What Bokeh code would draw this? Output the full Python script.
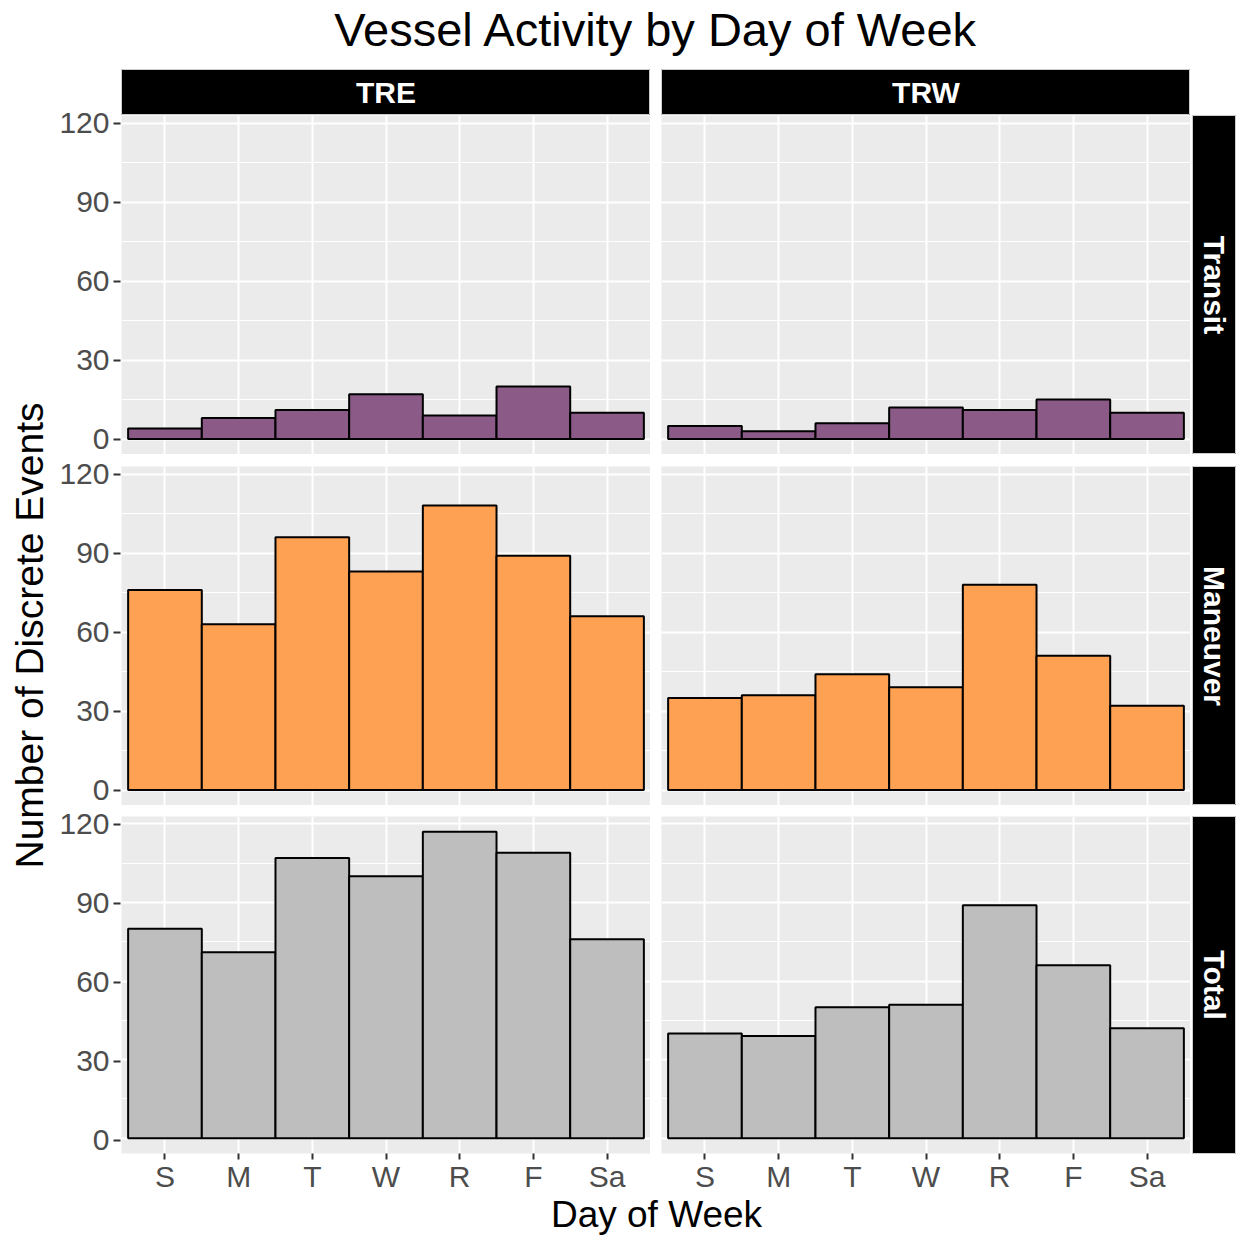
from math import pi

from bokeh.plotting import figure
from bokeh.layouts import row, column, Spacer
from bokeh.models import ColumnDataSource, FactorRange, Range1d, FixedTicker
from bokeh.core.properties import value
from bokeh.embed import file_html
from bokeh.resources import INLINE

# data
days = ["S", "M", "T", "W", "R", "F", "Sa"]
sites = ["TRE", "TRW"]
activities = ["Transit", "Maneuver", "Total"]

transit_tre = [4, 8, 11, 17, 9, 20, 10]
transit_trw = [5, 3, 6, 12, 11, 15, 10]
maneuver_tre = [76, 63, 96, 83, 108, 89, 66]
maneuver_trw = [35, 36, 44, 39, 78, 51, 32]
total_tre = [80, 71, 107, 100, 117, 109, 76]
total_trw = [40, 39, 50, 51, 89, 66, 42]

y_ticks = [0, 30, 60, 90, 120]
y_minor = [15, 45, 75, 105]

counts = {
    ("Transit", "TRE"): transit_tre, ("Transit", "TRW"): transit_trw,
    ("Maneuver", "TRE"): maneuver_tre, ("Maneuver", "TRW"): maneuver_trw,
    ("Total", "TRE"): total_tre, ("Total", "TRW"): total_trw,
}
fills = {"Transit": "#8B5A87", "Maneuver": "#FFA152", "Total": "#BEBEBE"}

FONT = "Liberation Sans"
PW, PH = 529, 339           # panel frame size
GAP = 11                    # space between facets
STRIP = 46
TITLE_H = 69
YLAB_W, YAX_W = 53, 68
row_tops = [0, 12, 11]      # space above each facet row
X_AXIS_H = 40               # room for day labels under the last row
MAIN_W = PW + GAP + PW + STRIP
CX = 656 - YLAB_W - YAX_W   # centre of the facet area inside the main column


def y_range():
    return Range1d(-5.85, 122.85)


def style_axis(ax):
    ax.axis_line_color = None
    ax.major_tick_in = 0
    ax.major_tick_out = 7
    ax.major_tick_line_color = "#333333"
    ax.major_tick_line_width = 2
    ax.minor_tick_line_color = None
    ax.major_label_text_font = FONT
    ax.major_label_text_font_size = "30px"
    ax.major_label_text_color = "#4D4D4D"
    ax.major_label_standoff = 4


def text_fig(w, h, label, x, y, size, angle=0):
    f = figure(width=w, height=h, x_range=Range1d(0, w), y_range=Range1d(0, h),
               x_axis_location=None, y_axis_location=None,
               toolbar_location=None, output_backend="svg",
               min_border_left=0, min_border_right=0, min_border_top=0, min_border_bottom=0,
               outline_line_color=None)
    f.grid.visible = False
    f.text(x=[x], y=[y], text=[label], angle=angle, text_align="center",
           text_baseline="middle", text_color="black",
           text_font=value(FONT), text_font_size=size)
    return f


def strip(label, w, h, left=0, top=0, bottom=0, angle=0):
    s = figure(width=w + left, height=h + top + bottom,
               x_range=Range1d(0, 1), y_range=Range1d(0, 1),
               x_axis_location=None, y_axis_location=None,
               toolbar_location=None, output_backend="svg",
               min_border_left=left, min_border_right=0,
               min_border_top=top, min_border_bottom=bottom,
               background_fill_color="black", outline_line_color="#CCCCCC")
    s.grid.visible = False
    s.text(x=[0.5], y=[0.5], text=[label], angle=angle, text_align="center",
           text_baseline="middle", text_color="white", text_font=value(FONT),
           text_font_style="bold", text_font_size="30px")
    return s


def y_axis_fig(top, bottom):
    # thin figure that only carries the shared y axis of one facet row
    a = figure(width=YAX_W, height=PH + top + bottom,
               x_range=Range1d(0, 1), y_range=y_range(),
               x_axis_location=None, y_axis_location="left",
               toolbar_location=None, output_backend="svg",
               min_border_left=YAX_W - 1, min_border_right=0,
               min_border_top=top, min_border_bottom=bottom,
               outline_line_color=None)
    a.grid.visible = False
    style_axis(a.yaxis[0])
    a.yaxis[0].ticker = FixedTicker(ticks=y_ticks)
    return a


def panel(vals, fill, show_x, left, top):
    bottom = X_AXIS_H if show_x else 0
    p = figure(width=PW + left, height=PH + top + bottom,
               x_range=FactorRange(factors=days, range_padding=0.0257),
               y_range=y_range(),
               x_axis_location="below" if show_x else None,
               y_axis_location=None,
               toolbar_location=None, output_backend="svg",
               min_border_left=left, min_border_right=0,
               min_border_top=top, min_border_bottom=bottom,
               background_fill_color="#EBEBEB", outline_line_color=None)
    src = ColumnDataSource(data=dict(day=days, count=vals))
    p.vbar(x="day", top="count", bottom=0, width=1, source=src,
           fill_color=fill, line_color="black", line_width=2)

    p.ygrid.ticker = FixedTicker(ticks=y_ticks, minor_ticks=y_minor)
    p.grid.grid_line_color = "white"
    p.grid.grid_line_width = 2
    p.ygrid.minor_grid_line_color = "white"
    p.ygrid.minor_grid_line_width = 1

    for ax in p.xaxis:
        style_axis(ax)
        ax.major_tick_out = 6
        ax.major_label_standoff = 0
    return p


title = text_fig(MAIN_W, TITLE_H, "Vessel Activity by Day of Week", CX, 40, "47px")
strips = row(strip(sites[0], PW, STRIP),
             strip(sites[1], PW, STRIP, left=GAP),
             Spacer(width=STRIP, height=STRIP))

facet_rows = []
for i, act in enumerate(activities):
    last = i == len(activities) - 1
    top = row_tops[i]
    bottom = X_AXIS_H if last else 0
    facet_rows.append(row(
        panel(counts[(act, sites[0])], fills[act], last, 0, top),
        panel(counts[(act, sites[1])], fills[act], last, GAP, top),
        strip(act, STRIP - 2, PH, left=2, top=top, bottom=bottom, angle=-pi / 2),
    ))

xlab_h = 1236 - TITLE_H - STRIP - sum(row_tops) - 3 * PH - X_AXIS_H
xlab = text_fig(MAIN_W, xlab_h, "Day of Week", CX, xlab_h - 19, "37px")

axis_figs = [
    y_axis_fig(TITLE_H + STRIP, 0),
    y_axis_fig(row_tops[1], 0),
    y_axis_fig(row_tops[2], 1236 - TITLE_H - STRIP - sum(row_tops) - 3 * PH),
]
ylab = text_fig(YLAB_W, 1236, "Number of Discrete Events", 29, 601, "39px", angle=pi / 2)

p = row(ylab, column(*axis_figs), column(title, strips, *facet_rows, xlab))

open("out.html", "w").write(file_html(p, INLINE))
